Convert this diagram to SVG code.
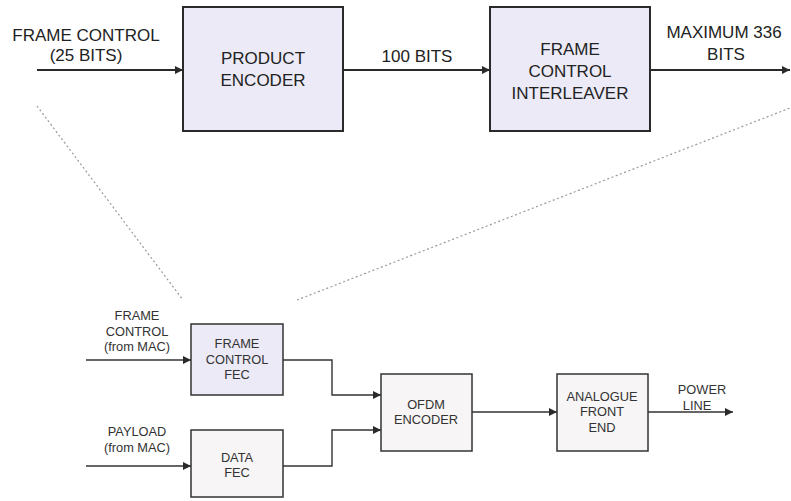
<svg xmlns="http://www.w3.org/2000/svg" width="791" height="501" viewBox="0 0 791 501">
<style>
text{font-family:"Liberation Sans",Arial,sans-serif;fill:#222;text-anchor:middle}
.big{font-size:17px}
.sm{font-size:12.8px;fill:#333}
.boxA{fill:#EBEAF6;stroke:#2a2a2a;stroke-width:2}
.boxB{fill:#EBEAF6;stroke:#333;stroke-width:1.5}
.boxC{fill:#F7F5F5;stroke:#333;stroke-width:1.5}
.ln{fill:none;stroke:#2a2a2a;stroke-width:2}
.lns{fill:none;stroke:#333;stroke-width:1.4}
.dash{fill:none;stroke:#999;stroke-width:1.2;stroke-dasharray:2 2.5}
</style>
<defs>
<marker id="ah" markerWidth="10" markerHeight="10" refX="8" refY="5" orient="auto" markerUnits="userSpaceOnUse">
<path d="M0,1 L8,5 L0,9 Z" fill="#2a2a2a"/>
</marker>
</defs>
<rect width="791" height="501" fill="#fff"/>
<g id="connectors">
<line class="ln" x1="37" y1="70" x2="183" y2="70" marker-end="url(#ah)"/>
<line class="ln" x1="343" y1="70" x2="490" y2="70" marker-end="url(#ah)"/>
<line class="ln" x1="650" y1="70" x2="790" y2="70" marker-end="url(#ah)"/>
<line class="dash" x1="37" y1="106" x2="183" y2="300"/>
<line class="dash" x1="297" y1="300" x2="790" y2="108"/>
<line class="lns" x1="86" y1="360" x2="191" y2="360" marker-end="url(#ah)"/>
<line class="lns" x1="86" y1="466" x2="191" y2="466" marker-end="url(#ah)"/>
<polyline class="lns" points="283,360 332,360 332,395 381,395" marker-end="url(#ah)"/>
<polyline class="lns" points="283,466 332,466 332,430 381,430" marker-end="url(#ah)"/>
<line class="lns" x1="472" y1="412" x2="557" y2="412" marker-end="url(#ah)"/>
<line class="lns" x1="648" y1="412" x2="733" y2="412" marker-end="url(#ah)"/>
</g>
<g id="label-fc-in"><text class="big" x="86" y="41">FRAME CONTROL</text><text class="big" x="86" y="61">(25 BITS)</text></g>
<g id="product-encoder"><rect class="boxA" x="183" y="7" width="160" height="124"/><text class="big" x="263" y="64">PRODUCT</text><text class="big" x="263" y="86">ENCODER</text></g>
<g id="label-100"><text class="big" x="417" y="62">100 BITS</text></g>
<g id="interleaver"><rect class="boxA" x="490" y="7" width="160" height="124"/><text class="big" x="570" y="55">FRAME</text><text class="big" x="570" y="77">CONTROL</text><text class="big" x="570" y="99">INTERLEAVER</text></g>
<g id="label-max"><text class="big" x="724" y="38">MAXIMUM 336</text><text class="big" x="726" y="60">BITS</text></g>
<g id="label-fc-mac"><text class="sm" x="137" y="320">FRAME</text><text class="sm" x="137" y="336">CONTROL</text><text class="sm" x="137" y="351">(from MAC)</text></g>
<g id="label-payload"><text class="sm" x="137" y="436">PAYLOAD</text><text class="sm" x="137" y="452">(from MAC)</text></g>
<g id="fc-fec"><rect class="boxB" x="191" y="324" width="92" height="71"/><text class="sm" x="237" y="348">FRAME</text><text class="sm" x="237" y="364">CONTROL</text><text class="sm" x="237" y="379">FEC</text></g>
<g id="data-fec"><rect class="boxC" x="191" y="430" width="92" height="67"/><text class="sm" x="237" y="462">DATA</text><text class="sm" x="237" y="477">FEC</text></g>
<g id="ofdm"><rect class="boxC" x="381" y="374" width="91" height="77"/><text class="sm" x="426" y="409">OFDM</text><text class="sm" x="426" y="424">ENCODER</text></g>
<g id="afe"><rect class="boxC" x="557" y="374" width="91" height="77"/><text class="sm" x="602" y="401">ANALOGUE</text><text class="sm" x="602" y="416">FRONT</text><text class="sm" x="602" y="432">END</text></g>
<g id="label-power"><text class="sm" x="702" y="394">POWER</text><text class="sm" x="697" y="410">LINE</text></g>
</svg>
